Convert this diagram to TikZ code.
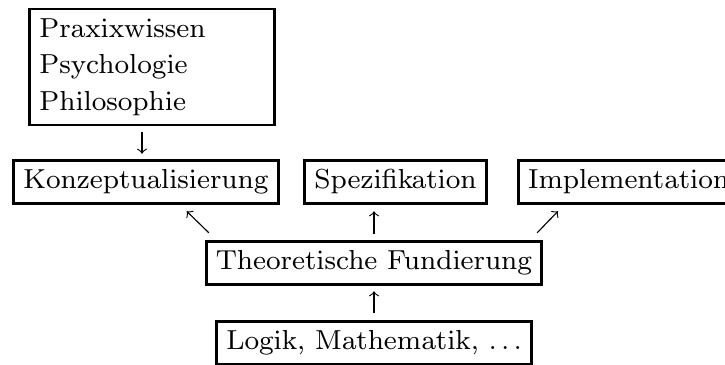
\documentclass[tikz,border=0pt]{standalone}
\usetikzlibrary{positioning}
\font\widerm=cmr8 at 9.75pt
\begin{document}
\begin{tikzpicture}[x=0.3545pt, y=-0.3545pt]

    % Stile der Knoten
    \tikzstyle{box} = [rectangle, draw=black, line width=1pt, inner sep=3.4pt, text centered, font=\widerm]
    \tikzstyle{listbox} = [box, align=left, text width=79.8pt, font=\fontsize{10}{12.9}\selectfont\widerm]
    \tikzstyle{arrow} = [line width=0.4pt, ->]

    \useasboundingbox (0,0) rectangle (725,365);

    % Knoten
    \node (wissen) [listbox] at (152,67) {Praxixwissen\\ Psychologie\\ Philosophie};
    \node (konz) [box] at (146,182) {Konzeptualisierung};
    \node (spez) [box] at (395.5,182) {Spezifikation};
    \node (impl) [box, anchor=west] at (517,182) {Implementation};
    \node (theo) [box] at (374,263) {Theoretische Fundierung};
    \node (logik) [box] at (374,343) {Logik, Mathematik, $\ldots$\hspace{3.5pt}};

    % Pfeile
    \draw [arrow] ([shift={(-10,6)}]wissen.south) -- ([shift={(-4,-5)}]konz.north);
    \draw [arrow] ([shift={(4,-7)}]theo.north west) -- ([shift={(-93,6)}]konz.south east);
    \draw [arrow] ([shift={(0,-6)}]theo.north) -- ([shift={(0,6)}]theo.north |- spez.south);
    \draw [arrow] ([shift={(-6,-7)}]theo.north east) -- ([shift={(41,6)}]impl.south west);
    \draw [arrow] ([shift={(0,-7)}]logik.north) -- ([shift={(0,5)}]theo.south);

\end{tikzpicture}
\end{document}
